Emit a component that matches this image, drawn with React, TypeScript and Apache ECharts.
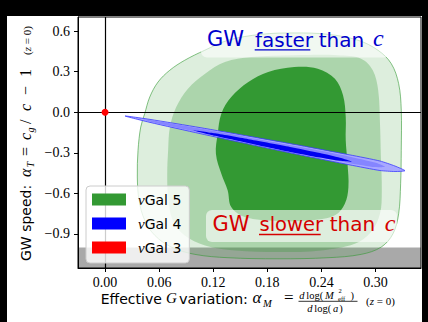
import React, { useEffect, useRef } from "react";
import * as echarts from "echarts";

// Axis ranges and ticks
const X_RANGE: [number, number] = [-0.03, 0.3505];
const Y_RANGE: [number, number] = [-1.152, 0.705];
const X_TICKS = [0, 0.06, 0.12, 0.18, 0.24, 0.3];
const Y_TICKS = [-0.9, -0.6, -0.3, 0, 0.3, 0.6];

// Dataset names / legend colours
const SERIES_NAMES = ["νGal 5", "νGal 4", "νGal 3"];
const SERIES_COLORS = ["#339933", "#0000ff", "#ff0000"];

// alpha_T below -1 is unphysical (grey band)
const EXCLUDED_BELOW = -1.0;

// νGal 5 credible regions in (alpha_M, alpha_T), outer -> inner
const GAL5_OUTER = [
  [0.044, -0.010], [0.0496, 0.113], [0.0588, 0.224], [0.0718, 0.311], [0.0884, 0.385],
  [0.1106, 0.459], [0.1364, 0.533], [0.1733, 0.577], [0.2104, 0.587], [0.2473, 0.577],
  [0.2806, 0.533], [0.3028, 0.459], [0.3175, 0.360], [0.3257, 0.212], [0.3286, 0.015],
  [0.3286, -0.281], [0.3279, -0.529], [0.3257, -0.751], [0.3194, -0.899], [0.3064, -0.997],
  [0.2842, -1.051], [0.2473, -1.076], [0.1919, -1.084], [0.1364, -1.076], [0.0995, -1.051],
  [0.0735, -0.997], [0.0551, -0.910], [0.044, -0.799], [0.0377, -0.651], [0.0358, -0.479],
  [0.0366, -0.281], [0.0396, -0.109],
];
const GAL5_MID = [
  [0.070, -0.281], [0.072, -0.109], [0.079, 0.039], [0.092, 0.175], [0.111, 0.286],
  [0.133, 0.372], [0.162, 0.409], [0.210, 0.422], [0.258, 0.422], [0.284, 0.397],
  [0.297, 0.311], [0.303, 0.163], [0.305, -0.084], [0.306, -0.331], [0.307, -0.577],
  [0.305, -0.751], [0.295, -0.886], [0.277, -0.973], [0.240, -1.022], [0.192, -1.034],
  [0.144, -1.022], [0.111, -0.985], [0.088, -0.910], [0.075, -0.799], [0.070, -0.627],
  [0.069, -0.455],
];
const GAL5_INNER = [
  [0.125, -0.158], [0.129, -0.010], [0.140, 0.113], [0.159, 0.224], [0.181, 0.298],
  [0.210, 0.335], [0.236, 0.323], [0.255, 0.249], [0.264, 0.126], [0.267, -0.035],
  [0.267, -0.207], [0.269, -0.381], [0.270, -0.553], [0.266, -0.677], [0.255, -0.762],
  [0.229, -0.799], [0.192, -0.805], [0.155, -0.775], [0.140, -0.701], [0.136, -0.577],
  [0.129, -0.455], [0.123, -0.306],
];

// νGal 4 credible regions, outer -> inner
const GAL4_OUTER = [
  [0.0222, -0.0274], [0.0499, -0.0526], [0.1054, -0.1133], [0.1608, -0.1784], [0.2163, -0.245],
  [0.2717, -0.3153], [0.305, -0.3605], [0.3216, -0.3975], [0.3327, -0.4323], [0.3216, -0.4382],
  [0.305, -0.4308], [0.2717, -0.3893], [0.2163, -0.3153], [0.1608, -0.2376], [0.1054, -0.1577],
  [0.0499, -0.0748],
];
const GAL4_MID = [
  [0.0421, -0.0533], [0.061, -0.0688], [0.1054, -0.1207], [0.1608, -0.1876], [0.2163, -0.2557],
  [0.2717, -0.3283], [0.2994, -0.372], [0.3105, -0.4027], [0.2994, -0.4053], [0.2717, -0.3764],
  [0.2163, -0.3038], [0.1608, -0.2284], [0.1054, -0.1503], [0.061, -0.087],
];
const GAL4_INNER = [
  [0.0976, -0.1325], [0.122, -0.1558], [0.1608, -0.2013], [0.2052, -0.2561], [0.2384, -0.3016],
  [0.2606, -0.3368], [0.2739, -0.3657], [0.2606, -0.359], [0.2384, -0.3349], [0.2052, -0.2931],
  [0.1608, -0.2309], [0.122, -0.1743],
];

// νGal 3 (GR point)
const GAL3_POINT = [[0, 0]];

// offsets of the white canvas inside the black frame
const OX = 7;
const OY = 16;

const SANS = '"DejaVu Sans"';
const SERIF = '"Liberation Serif"';

type Piece = [string, number, number, number, boolean, string];

function textEl(
  text: string, x: number, base: number, size: number, italic: boolean,
  family: string, color = "#000", local = false
) {
  return {
    type: "text",
    x: local ? x : x - OX,
    y: (local ? base : base - OY) - 0.33 * size,
    z: 8,
    silent: true,
    style: {
      text,
      font: `${italic ? "italic " : ""}${size}px ${family}`,
      fill: color,
      textAlign: "left",
      textVerticalAlign: "middle",
    },
  };
}

function lineEl(x1: number, y1: number, x2: number, y2: number, color: string, w: number) {
  return {
    type: "line",
    z: 8,
    silent: true,
    shape: { x1: x1 - OX, y1: y1 - OY, x2: x2 - OX, y2: y2 - OY },
    style: { stroke: color, lineWidth: w },
  };
}

function boxEl(x: number, y: number, w: number, h: number) {
  return {
    type: "rect",
    z: 7,
    silent: true,
    shape: { x: x - OX, y: y - OY, width: w, height: h, r: 6 },
    style: { fill: "rgba(255,255,255,0.6)" },
  };
}

function contourSeries(
  name: string, rings: number[][][], styles: any[], z: number, smooth: number, color: string, extra: any = {}
) {
  return {
    type: "custom",
    name,
    z,
    silent: true,
    clip: true,
    itemStyle: { color },
    data: [[0, 0]],
    renderItem: (_p: any, api: any) => ({
      type: "group",
      children: rings.map((ring, i) => ({
        type: "polygon",
        shape: { points: ring.map((pt) => api.coord(pt)), smooth },
        style: styles[i],
      })),
    }),
    ...extra,
  };
}

// x-axis title pieces: text, x, baseline, size, italic, family
const X_TITLE: Piece[] = [
  ["Effective", 100.7, 303.3, 14, false, SANS],
  ["G", 166, 303.3, 15, true, SERIF],
  ["variation:", 179, 303.3, 14.5, false, SANS],
  ["α", 252.5, 303.3, 17, true, SERIF],
  ["M", 263, 306.5, 10.5, true, SERIF],
  ["=", 284, 303.3, 17, false, SERIF],
  ["d", 299.3, 298.5, 10.5, true, SERIF],
  ["log(", 306.3, 298.5, 10.5, false, SERIF],
  ["M", 325, 298.5, 10.5, true, SERIF],
  ["2", 338.5, 292.6, 6.5, false, SERIF],
  ["eff", 338, 300.4, 6.5, false, SERIF],
  [")", 350.5, 298.5, 10.5, false, SERIF],
  ["d", 307.3, 311.5, 10.5, true, SERIF],
  ["log(", 314.3, 311.5, 10.5, false, SERIF],
  ["a", 333, 311.5, 10.5, true, SERIF],
  [")", 339.3, 311.5, 10.5, false, SERIF],
  ["(", 366, 305, 11, false, SERIF],
  ["z", 369.8, 305, 11, true, SERIF],
  [" = 0)", 374, 305, 11, false, SERIF],
];

// y-axis title pieces along the rotated baseline: text, u, v, size, italic, family
const Y_TITLE: Piece[] = [
  ["GW speed:", 0, 0, 14, false, SANS],
  ["α", 84, 0, 16, true, SERIF],
  ["T", 93.5, 3, 10, true, SERIF],
  ["=", 105, 0, 16, false, SERIF],
  ["c", 121, 0, 16, true, SERIF],
  ["g", 128.5, 3, 10, true, SERIF],
  ["/", 137, 0, 16, false, SERIF],
  ["c", 150, 0, 16, true, SERIF],
  ["−", 166, 0, 16, false, SERIF],
  ["1", 184, 0, 16, false, SERIF],
  ["(", 206, 0, 11, false, SERIF],
  ["z", 209.8, 0, 11, true, SERIF],
  [" = 0)", 214, 0, 11, false, SERIF],
];

const FASTER_COLOR = "#0000cd";
const SLOWER_COLOR = "#d50000";

export default function App() {
  const ref = useRef<HTMLDivElement>(null);

  useEffect(() => {
    if (!ref.current) return;
    const chart = echarts.init(ref.current, null, { renderer: "svg" });

    const graphics: any[] = [
      // annotation boxes
      boxEl(201, 25.5, 189, 32),
      boxEl(206, 210, 191, 32),
      textEl("GW", 207, 46.3, 21, false, SANS, FASTER_COLOR),
      textEl("faster", 255, 46.3, 20, false, SANS, FASTER_COLOR),
      textEl("than", 318.7, 46.3, 20, false, SANS, FASTER_COLOR),
      textEl("c", 373, 46.3, 24, true, SERIF, FASTER_COLOR),
      lineEl(254.7, 49.8, 310.3, 49.8, FASTER_COLOR, 1.3),
      textEl("GW", 212.5, 231, 21, false, SANS, SLOWER_COLOR),
      textEl("slower", 259.5, 231, 19.5, false, SANS, SLOWER_COLOR),
      textEl("than", 329.7, 231, 20, false, SANS, SLOWER_COLOR),
      textEl("c", 384.7, 231, 24, true, SERIF, SLOWER_COLOR),
      lineEl(259, 234.5, 320.7, 234.5, SLOWER_COLOR, 1.3),
      // x title
      ...X_TITLE.map(([t, x, b, s, it, f]) => textEl(t, x, b, s, it, f)),
      lineEl(298.5, 301.3, 357.5, 301.3, "#000", 0.8),
      // y title (rotated)
      {
        type: "group",
        x: 31 - OX,
        y: 261 - OY,
        rotation: Math.PI / 2,
        children: Y_TITLE.map(([t, u, v, s, it, f]) => textEl(t, u, v, s, it, f, "#000", true)),
      },
    ];

    const option: any = {
      animation: false,
      grid: {
        left: 71, right: 1, top: 1, bottom: 54,
        show: true, borderColor: "#000", borderWidth: 1, backgroundColor: "transparent", z: 10,
      },
      xAxis: {
        type: "value",
        min: X_RANGE[0],
        max: X_RANGE[1],
        z: 10,
        axisLine: { show: true, onZero: false, lineStyle: { color: "#000", width: 1 } },
        axisTick: { show: true, customValues: X_TICKS, length: 4, lineStyle: { color: "#000" } },
        axisLabel: {
          customValues: X_TICKS,
          formatter: (v: number) => v.toFixed(2),
          fontFamily: "Liberation Serif",
          fontSize: 14,
          color: "#000",
          margin: 7,
        },
        splitLine: { show: false },
      },
      yAxis: {
        type: "value",
        min: Y_RANGE[0],
        max: Y_RANGE[1],
        z: 10,
        axisLine: { show: true, onZero: false, lineStyle: { color: "#000", width: 1 } },
        axisTick: { show: true, customValues: Y_TICKS, length: 4, lineStyle: { color: "#000" } },
        axisLabel: {
          customValues: Y_TICKS,
          formatter: (v: number) => (v < 0 ? "−" : "") + Math.abs(v).toFixed(1),
          fontFamily: "Liberation Serif",
          fontSize: 14,
          color: "#000",
          margin: 8,
        },
        splitLine: { show: false },
      },
      legend: {
        orient: "vertical",
        left: 79,
        top: 170,
        itemWidth: 34,
        itemHeight: 12,
        itemGap: 9,
        padding: [6, 8, 8, 6],
        backgroundColor: "rgba(255,255,255,0.8)",
        borderColor: "#cccccc",
        borderWidth: 1,
        borderRadius: 4,
        selectedMode: false,
        z: 7,
        data: SERIES_NAMES.map((n, i) => ({
          name: n,
          icon: "rect",
          itemStyle: { color: SERIES_COLORS[i], borderWidth: 0, opacity: 1 },
        })),
        formatter: (n: string) => `{m|${n.charAt(0)}}{s|${n.slice(1)}}`,
        textStyle: {
          rich: {
            m: { fontFamily: "Liberation Serif", fontStyle: "italic", fontSize: 15, lineHeight: 14, color: "#000", padding: [0, 0, 0, 7] },
            s: { fontFamily: "DejaVu Sans", fontSize: 14, lineHeight: 14, color: "#000" },
          },
        },
      },
      graphic: { elements: graphics },
      series: [
        {
          type: "custom",
          name: "excluded",
          z: 1,
          silent: true,
          data: [[0, 0]],
          renderItem: (_p: any, api: any) => {
            const a = api.coord([X_RANGE[0], EXCLUDED_BELOW]);
            const b = api.coord([X_RANGE[1], Y_RANGE[0]]);
            return {
              type: "rect",
              shape: { x: a[0], y: a[1], width: b[0] - a[0], height: b[1] - a[1] },
              style: { fill: "#a9a9a9" },
            };
          },
        },
        contourSeries(
          SERIES_NAMES[0],
          [GAL5_OUTER, GAL5_MID, GAL5_INNER],
          [
            { fill: "rgba(51,153,51,0.17)", stroke: "rgba(51,153,51,0.75)", lineWidth: 0.8 },
            { fill: "rgba(51,153,51,0.29)" },
            { fill: "#339933" },
          ],
          2, 0.35, SERIES_COLORS[0]
        ),
        contourSeries(
          SERIES_NAMES[1],
          [GAL4_OUTER, GAL4_MID, GAL4_INNER],
          [
            { fill: "#a8a8ff", stroke: "#3a3aff", lineWidth: 0.8 },
            { fill: "#8585ff" },
            { fill: "#0000f0" },
          ],
          3, 0.2, SERIES_COLORS[1],
          {
            markLine: {
              silent: true,
              symbol: "none",
              label: { show: false },
              lineStyle: { color: "#000", width: 1.2, type: "solid" },
              emphasis: { disabled: true },
              data: [{ xAxis: 0 }, { yAxis: 0 }],
            },
          }
        ),
        {
          type: "scatter",
          name: SERIES_NAMES[2],
          z: 6,
          silent: true,
          symbol: "circle",
          symbolSize: 7,
          itemStyle: { color: SERIES_COLORS[2], opacity: 1 },
          data: GAL3_POINT,
        },
      ],
    };

    chart.setOption(option);
    return () => chart.dispose();
  }, []);

  return (
    <div style={{ position: "fixed", left: 0, top: 0, width: 428, height: 322, background: "#000" }}>
      <div
        ref={ref}
        style={{ position: "absolute", left: OX, top: OY, width: 415, height: 306, background: "#fff" }}
      />
    </div>
  );
}
